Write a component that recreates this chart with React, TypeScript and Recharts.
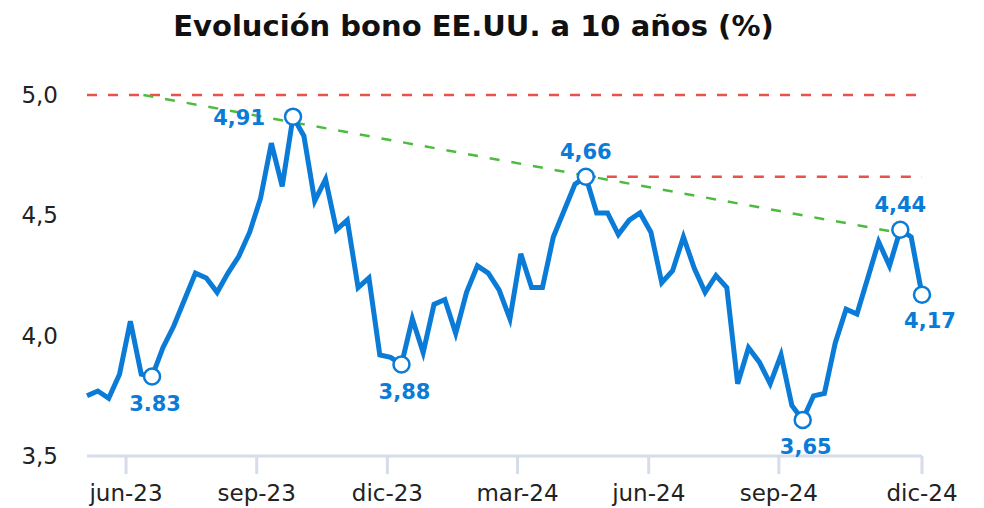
import { LineChart, Line, XAxis, YAxis, ReferenceLine } from "recharts";

// Rendimiento semanal del bono a 10 años (%)
const values = [
  3.75, 3.77, 3.74, 3.84, 4.06, 3.84, 3.83, 3.95, 4.04, 4.15,
  4.26, 4.24, 4.18, 4.26, 4.33, 4.43, 4.57, 4.8, 4.62, 4.91,
  4.83, 4.56, 4.65, 4.44, 4.48, 4.2, 4.24, 3.92, 3.91, 3.88,
  4.07, 3.93, 4.13, 4.15, 4.01, 4.18, 4.29, 4.26, 4.19, 4.07,
  4.34, 4.2, 4.2, 4.41, 4.52, 4.63, 4.66, 4.51, 4.51, 4.42,
  4.48, 4.51, 4.43, 4.22, 4.27, 4.41, 4.28, 4.18, 4.25, 4.2,
  3.8, 3.95, 3.89, 3.8, 3.92, 3.71, 3.65, 3.75, 3.76, 3.97,
  4.11, 4.09, 4.24, 4.39, 4.29, 4.44, 4.41, 4.17,
];

const tickIdx = [3.6, 15.65, 27.7, 39.7, 51.8, 63.8, 77];
const tickLabels = ["jun-23", "sep-23", "dic-23", "mar-24", "jun-24", "sep-24", "dic-24"];
const yTicks = [3.5, 4.0, 4.5, 5.0];

// puntos marcados
const markIdx = [6, 19, 29, 46, 66, 75, 77];
const markText = ["3.83", "4,91", "3,88", "4,66", "3,65", "4,44", "4,17"];
const markPlace = ["below", "left", "below", "above", "below", "above", "belowRight"];

const resistance = 5.0;
const lastPeak = 4.66;
const lastPeakIdx = 46;
const trendFrom = { x: 5.2, y: 5.0 };
const trendTo = { x: 77, y: 4.41 };

const BLUE = "#0a7bd6";
const RED = "#e5534b";
const GREEN = "#4cbb3f";

const data = values.map((v, i) => ({ i, v }));

const renderDot = (props: any) => {
  const { cx, cy, index } = props;
  const k = markIdx.indexOf(index);
  if (k < 0) return <g key={`d${index}`} />;
  const place = markPlace[k];
  let tx = cx;
  let ty = cy;
  let anchor = "middle";
  if (place === "left") {
    tx = cx - 28;
    ty = cy + 8;
    anchor = "end";
  } else if (place === "above") {
    ty = cy - 18;
  } else if (place === "below") {
    tx = cx + 3;
    ty = cy + 34;
  } else {
    tx = cx + 8;
    ty = cy + 33;
  }
  return (
    <g key={`d${index}`}>
      <circle cx={cx} cy={cy} r={8} fill="#fff" stroke={BLUE} strokeWidth={2.5} />
      <text
        x={tx}
        y={ty}
        textAnchor={anchor}
        fontFamily="DejaVu Sans"
        fontWeight="bold"
        fontSize={21}
        fill={BLUE}
      >
        {markText[k]}
      </text>
    </g>
  );
};

export default function App() {
  return (
    <div style={{ position: "fixed", left: 0, top: 0, width: 984, height: 508, background: "#fff" }}>
      <div
        style={{
          position: "absolute",
          left: 0,
          top: 12,
          width: 947,
          textAlign: "center",
          fontFamily: "DejaVu Sans",
          fontWeight: "bold",
          fontSize: 29,
          lineHeight: "29px",
          color: "#111",
        }}
      >
        Evolución bono EE.UU. a 10 años (%)
      </div>
      <LineChart width={984} height={508} data={data} margin={{ top: 95, right: 62, left: 0, bottom: 0 }}>
        <XAxis
          dataKey="i"
          type="number"
          domain={[0, values.length - 1]}
          ticks={tickIdx}
          interval={0}
          tickFormatter={(v: number) => tickLabels[tickIdx.indexOf(v)]}
          axisLine={{ stroke: "#d5dde8", strokeWidth: 3 }}
          tickLine={{ stroke: "#d5dde8", strokeWidth: 3 }}
          tickSize={18}
          tickMargin={11}
          height={52}
          tick={{ fontSize: 23, fill: "#222", fontFamily: "DejaVu Sans" }}
        />
        <YAxis
          type="number"
          domain={[3.5, 5]}
          ticks={yTicks}
          interval={0}
          tickFormatter={(v: number) => v.toFixed(1).replace(".", ",")}
          axisLine={false}
          tickLine={false}
          tickSize={0}
          tickMargin={29}
          width={87}
          tick={{ fontSize: 23, fill: "#222", fontFamily: "DejaVu Sans" }}
        />
        <ReferenceLine y={resistance} stroke={RED} strokeWidth={2.5} strokeDasharray="10 11" />
        <ReferenceLine
          segment={[
            { x: lastPeakIdx, y: lastPeak },
            { x: values.length - 1, y: lastPeak },
          ]}
          stroke={RED}
          strokeWidth={2.5}
          strokeDasharray="10 11"
        />
        <ReferenceLine segment={[trendFrom, trendTo]} stroke={GREEN} strokeWidth={2.5} strokeDasharray="10 12" />
        <Line
          type="linear"
          dataKey="v"
          stroke={BLUE}
          strokeWidth={5}
          dot={renderDot}
          activeDot={false}
          isAnimationActive={false}
        />
      </LineChart>
    </div>
  );
}
